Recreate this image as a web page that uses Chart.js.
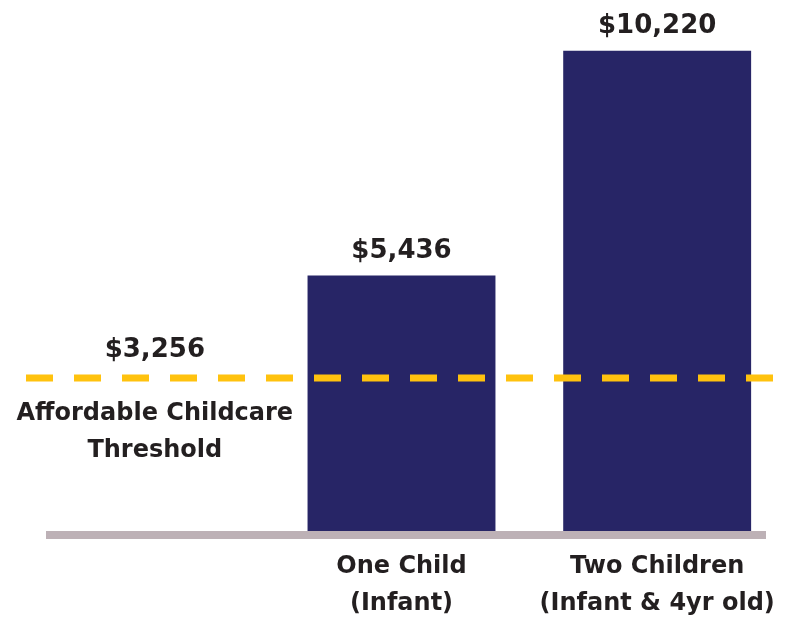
<!DOCTYPE html>
<html>
<head>
<meta charset="utf-8">
<script src="https://cdn.jsdelivr.net/npm/chart.js@4/dist/chart.umd.min.js"></script>
<style>
  html, body { margin: 0; padding: 0; background: #fff; }
</style>
</head>
<body>
<canvas id="chart" width="794" height="619"></canvas>
<script>
// data
const categories = [['', ''], ['One Child', '(Infant)'], ['Two Children', '(Infant & 4yr old)']];
const costs = [null, 5436, 10220];
const threshold = 3256;
const thresholdLabel = ['Affordable Childcare', 'Threshold'];
const yMax = 11000;

const INK = '#231f20';
const NAVY = '#272566';
const GOLD = '#ffc20e';
const RULE = '#bdb1b6';
const FONT = '"DejaVu Sans", Inter, sans-serif';

const money = v => '$' + v.toLocaleString('en-US');

// baseline, threshold line and the text labels
const overlay = {
  id: 'overlay',
  afterDatasetsDraw(chart) {
    const { ctx, chartArea: a, scales: { x, y } } = chart;
    ctx.save();
    ctx.fillStyle = RULE;
    ctx.fillRect(a.left + 28, a.bottom, a.right - a.left - 47, 8);

    const ty = y.getPixelForValue(threshold);
    ctx.strokeStyle = GOLD;
    ctx.lineWidth = 7;
    ctx.setLineDash([27, 21]);
    ctx.beginPath();
    ctx.moveTo(a.left + 8, ty);
    ctx.lineTo(a.right - 12, ty);
    ctx.stroke();
    ctx.setLineDash([]);

    ctx.fillStyle = INK;
    ctx.textAlign = 'center';
    ctx.textBaseline = 'alphabetic';
    ctx.font = 'bold 26px ' + FONT;
    chart.getDatasetMeta(0).data.forEach((bar, i) => {
      if (costs[i] == null) return;
      ctx.fillText(money(costs[i]), bar.x, bar.y - 18);
    });
    const tx = x.getPixelForValue(0) + 9;
    ctx.fillText(money(threshold), tx, ty - 21);
    ctx.font = 'bold 24px ' + FONT;
    thresholdLabel.forEach((t, i) => ctx.fillText(t, tx, ty + 42 + i * 37));
    ctx.restore();
  }
};

new Chart(document.getElementById('chart'), {
  type: 'bar',
  data: {
    labels: categories,
    datasets: [{ data: costs, backgroundColor: NAVY, barPercentage: 0.735, categoryPercentage: 1 }]
  },
  options: {
    responsive: false,
    animation: false,
    layout: { padding: { left: 18, right: 9, top: 14, bottom: 0 } },
    plugins: { legend: { display: false }, tooltip: { enabled: false } },
    scales: {
      x: {
        grid: { display: false, drawTicks: false },
        border: { display: false },
        ticks: { color: INK, padding: 17, font: { family: FONT, size: 24, weight: 'bold', lineHeight: 37 / 24 } },
        afterFit: s => { s.height = 88; }
      },
      y: { display: false, min: 0, max: yMax }
    }
  },
  plugins: [overlay]
});
</script>
</body>
</html>
